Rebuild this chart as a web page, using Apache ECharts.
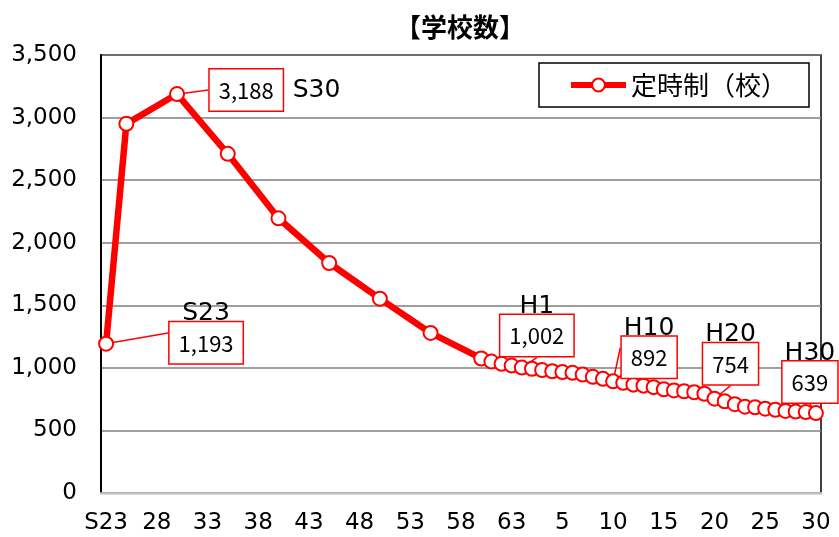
<!DOCTYPE html>
<html>
<head>
<meta charset="utf-8">
<script src="https://cdn.jsdelivr.net/npm/echarts@6/dist/echarts.min.js"></script>
<style>
html,body{margin:0;padding:0;background:#fff;}
#c{width:839px;height:537px;}
</style>
</head>
<body>
<div id="c"></div>
<script>
// Category (year) labels: Showa 23 .. Showa 63, Heisei 1 .. Heisei 30
const years = [
  'S23','S24','S25','S26','S27','S28','S29','S30','S31','S32','S33','S34','S35','S36','S37','S38','S39','S40',
  'S41','S42','S43','S44','S45','S46','S47','S48','S49','S50','S51','S52','S53','S54','S55','S56','S57','S58',
  'S59','S60','S61','S62','S63',
  'H1','H2','H3','H4','H5','H6','H7','H8','H9','H10','H11','H12','H13','H14','H15','H16','H17','H18','H19','H20',
  'H21','H22','H23','H24','H25','H26','H27','H28','H29','H30'
];
// Number of schools with part-time (定時制) courses; null = no data for that year
const schools = [
  1193, null, 2950, null, null, null, null, 3188, null, null, null, null, 2710, null, null, null, null, 2195,
  null, null, null, null, 1838, null, null, null, null, 1553, null, null, null, null, 1279, null, null, null,
  null, 1075, 1050, 1032, 1018,
  1002, 993, 982, 973, 966, 960, 946, 928, 912, 892, 880, 866, 858, 846, 829, 820, 813, 805, 793, 754,
  733, 710, 690, 685, 674, 665, 656, 651, 647, 639
];
const seriesName = '定時制（校）';
const titleText = '【学校数】';
const yTicks = [0, 500, 1000, 1500, 2000, 2500, 3000, 3500];
// Years that carry a callout label
const calloutYears = ['S23', 'S30', 'H1', 'H10', 'H20', 'H30'];

const fmt = v => v.toLocaleString('en-US');
const RED = '#ff0000';

// label placement (offset of label centre from its point)
const calloutPlace = {
  S23: {dx: 100, dy: -16, side: 'top'},
  S30: {dx: 98, dy: -4, side: 'right'},
  H1:  {dx: 15, dy: -47, side: 'top'},
  H10: {dx: 36, dy: -39, side: 'top'},
  H20: {dx: 16, dy: -50, side: 'top'},
  H30: {dx: -6, dy: -46, side: 'top'}
};

const seriesData = schools.map((v, i) => {
  const y = years[i];
  if (v === null || calloutYears.indexOf(y) < 0) return v;
  const p = calloutPlace[y];
  const fm = p.side === 'right'
    ? '{box|' + fmt(v) + '}{eraR|' + y + '}'
    : '{era|' + y + '}\n{box|' + fmt(v) + '}';
  return {
    value: v,
    label: {show: true, position: 'inside', formatter: fm}
  };
});

const chart = echarts.init(document.getElementById('c'), null, {renderer: 'canvas'});
chart.setOption({
  animation: false,
  backgroundColor: '#fff',
  title: {
    text: titleText,
    left: 390, top: 9,
    textStyle: {fontFamily: 'Noto Sans CJK JP', fontSize: 26, fontWeight: 'bold', color: '#000'}
  },
  legend: {
    left: 539, top: 63,
    padding: [9, 22, 9, 29],
    borderColor: '#000', borderWidth: 1.5,
    backgroundColor: '#fff',
    itemWidth: 55, itemHeight: 16,
    lineStyle: {width: 6},
    textStyle: {fontFamily: 'Noto Sans CJK JP', fontSize: 26, color: '#000'},
    data: [seriesName]
  },
  grid: {
    left: 101, right: 18, top: 55, bottom: 44,
    show: true, borderColor: '#000', borderWidth: 1.5, backgroundColor: 'transparent'
  },
  xAxis: {
    type: 'category',
    data: years,
    boundaryGap: true,
    axisLine: {lineStyle: {color: '#c8c8c8', width: 2.5}},
    axisTick: {show: false},
    axisLabel: {
      interval: 4,
      margin: 19,
      fontFamily: 'DejaVu Sans', fontSize: 23, color: '#000',
      formatter: (val, idx) => idx === 0 ? val : val.replace(/^[SH]/, '')
    }
  },
  yAxis: {
    type: 'value',
    min: yTicks[0], max: yTicks[yTicks.length - 1], interval: 500,
    axisLine: {show: true, lineStyle: {color: '#000', width: 2}},
    axisTick: {show: false},
    splitLine: {lineStyle: {color: '#7f7f7f', width: 1.5}},
    axisLabel: {
      margin: 24,
      fontFamily: 'DejaVu Sans', fontSize: 23, color: '#000',
      formatter: v => fmt(v)
    }
  },
  series: [{
    name: seriesName,
    type: 'line',
    data: seriesData,
    connectNulls: true,
    showAllSymbol: true,
    symbol: 'circle',
    symbolSize: 14,
    lineStyle: {color: RED, width: 6.5},
    itemStyle: {color: '#fff', borderColor: RED, borderWidth: 2},
    emphasis: {disabled: true},
    label: {
      show: false,
      align: 'center',
      verticalAlign: 'middle',
      rich: {
        box: {
          fontFamily: 'Noto Sans CJK JP', fontSize: 22, color: '#000',
          backgroundColor: '#fff', borderColor: RED, borderWidth: 1.5,
          padding: [10, 9, 9, 9], lineHeight: 26
        },
        era: {
          fontFamily: 'DejaVu Sans', fontSize: 25, color: '#000', lineHeight: 30,
          padding: [0, 0, 2, 0]
        },
        eraR: {
          fontFamily: 'DejaVu Sans', fontSize: 25, color: '#000',
          padding: [0, 0, 0, 10]
        }
      }
    },
    labelLine: {show: true, smooth: false, lineStyle: {color: RED, width: 1.5}},
    labelLayout: function (params) {
      const y = years[params.dataIndex];
      const p = calloutPlace[y];
      if (!p) return {};
      return {dx: p.dx, dy: p.dy};
    }
  }]
});
</script>
</body>
</html>
